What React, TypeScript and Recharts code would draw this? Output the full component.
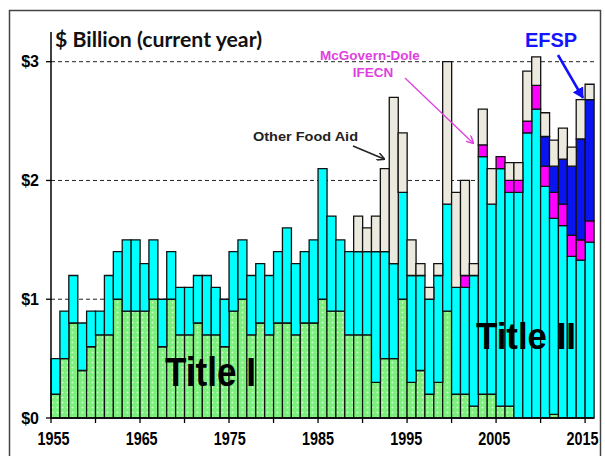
import { BarChart, Bar, XAxis, YAxis, CartesianGrid } from "recharts";

const years = Array.from({ length: 61 }, (_, i) => 1955 + i);

// $ billion
const titleI = [
  0.2, 0.5, 0.8, 0.4, 0.6, 0.7, 0.7, 1.0, 0.9, 0.9,
  0.9, 1.0, 0.6, 1.0, 0.7, 0.7, 0.8, 0.7, 0.7, 0.6,
  0.9, 1.0, 0.7, 0.8, 0.7, 0.8, 0.8, 0.7, 0.8, 0.8,
  1.0, 0.9, 0.9, 0.7, 0.7, 0.7, 0.3, 0.5, 0.5, 1.0,
  0.3, 0.4, 0.2, 0.3, 0.9, 0.2, 0.2, 0.1, 0.2, 0.2,
  0.1, 0.1, 0, 0, 0, 0, 0.03, 0, 0, 0,
  0,
];

// top of the cyan part (Title I + Title II)
const titleTotal = [
  0.5, 0.9, 1.2, 0.8, 0.9, 0.9, 1.2, 1.4, 1.5, 1.5,
  1.3, 1.5, 1.0, 1.4, 1.1, 1.1, 1.2, 1.2, 1.1, 1.0,
  1.4, 1.5, 1.2, 1.3, 1.2, 1.4, 1.6, 1.3, 1.4, 1.5,
  2.1, 1.7, 1.5, 1.4, 1.4, 1.4, 1.4, 1.4, 1.3, 1.9,
  1.2, 1.2, 1.0, 1.2, 1.8, 1.1, 1.1, 1.2, 2.2, 1.8,
  2.1, 1.9, 1.9, 2.4, 2.6, 1.95, 1.68, 1.62, 1.36, 1.33,
  1.48,
];

const mcgovern: Record<number, number> = {
  2001: 0.1, 2003: 0.1, 2005: 0.1, 2006: 0.1, 2007: 0.1, 2008: 0.1,
  2009: 0.2, 2010: 0.17, 2011: 0.22, 2012: 0.18, 2013: 0.18, 2014: 0.17, 2015: 0.18,
};

const efsp: Record<number, number> = {
  2010: 0.25, 2011: 0.22, 2012: 0.38, 2013: 0.58, 2014: 0.85, 2015: 1.02,
};

const otherAid: Record<number, number> = {
  1989: 0.3, 1990: 0.2, 1991: 0.3, 1992: 0.7, 1993: 1.4, 1994: 0.5,
  1995: 0.3, 1996: 0.1, 1997: 0.1, 1998: 0.1, 1999: 1.2, 2000: 0.8,
  2001: 0.8, 2002: 0.1, 2003: 0.3, 2004: 0.3, 2006: 0.15, 2007: 0.15,
  2008: 0.42, 2009: 0.24, 2010: 0.2, 2011: 0.22, 2012: 0.26, 2013: 0.16,
  2014: 0.33, 2015: 0.13,
};

const yTicks = [0, 1, 2, 3];
const gridValues = [1, 2, 3];

const data = years.map((year, i) => ({
  year,
  titleI: titleI[i],
  titleII: +(titleTotal[i] - titleI[i]).toFixed(2),
  mcgovern: mcgovern[year] ?? 0,
  efsp: efsp[year] ?? 0,
  other: otherAid[year] ?? 0,
}));

function YearTick(props: any) {
  const { x, y, payload } = props;
  const yr = Number(payload.value);
  const half = payload.offset || 4.45;
  // labels drift slightly left of the bar centres, as in the original
  const shift = -2 - ((yr - 1955) / 60) * 5;
  return (
    <g>
      {(yr - 1955) % 5 === 0 && (
        <line x1={x - half} x2={x - half} y1={y} y2={y + 5} stroke="#000" strokeWidth={1.3} />
      )}
      {(yr - 1955) % 10 === 0 && (
        <text
          x={x + shift}
          y={y + 27}
          textAnchor="middle"
          fontFamily="Liberation Sans, Arial, sans-serif"
          fontWeight="bold"
          fontSize={18}
          textLength={32}
          lengthAdjust="spacingAndGlyphs"
          fill="#000"
        >
          {yr}
        </text>
      )}
    </g>
  );
}

const stroke = "#111";

export default function App() {
  return (
    <div style={{ position: "fixed", left: 0, top: 0, width: 605, height: 456, background: "#fff" }}>
      <BarChart
        width={605}
        height={456}
        data={data}
        margin={{ top: 32, right: 11, bottom: 0, left: 0 }}
        barCategoryGap={0}
        barGap={0}
      >
        <defs>
          <pattern id="greenHatch" width="5" height="5" patternUnits="userSpaceOnUse">
            <rect width="5" height="5" fill="#7cf07c" />
            <path d="M2.5 1.5 V3.5 M1.5 2.5 H3.5" stroke="#ffffff" strokeWidth="0.8" opacity="0.7" />
          </pattern>
        </defs>
        <CartesianGrid
          vertical={false}
          horizontalValues={gridValues}
          strokeDasharray="4 3"
          stroke="#222"
        />
        <XAxis
          dataKey="year"
          height={38}
          interval={0}
          tickLine={false}
          tickSize={0}
          tickMargin={0}
          tick={<YearTick />}
          axisLine={{ stroke: "#000", strokeWidth: 1.5 }}
        />
        <YAxis
          width={51}
          type="number"
          domain={[0, 3.25]}
          ticks={yTicks}
          interval={0}
          tickSize={5}
          tickMargin={7}
          tickLine={{ stroke: "#000", strokeWidth: 1.3 }}
          axisLine={{ stroke: "#000", strokeWidth: 1.5 }}
          tickFormatter={(v) => `$${v}`}
          tick={{ fill: "#000", fontSize: 16, fontWeight: "bold", fontFamily: "Liberation Sans, Arial, sans-serif" }}
        />
        <Bar dataKey="titleI" stackId="a" fill="url(#greenHatch)" stroke={stroke} strokeWidth={1.3} isAnimationActive={false} />
        <Bar dataKey="titleII" stackId="a" fill="#00ffff" stroke={stroke} strokeWidth={1.3} isAnimationActive={false} />
        <Bar dataKey="mcgovern" stackId="a" fill="#ff00ff" stroke={stroke} strokeWidth={1.3} isAnimationActive={false} />
        <Bar dataKey="efsp" stackId="a" fill="#0a14f0" stroke={stroke} strokeWidth={1.3} isAnimationActive={false} />
        <Bar dataKey="other" stackId="a" fill="#ece9df" stroke={stroke} strokeWidth={1.3} isAnimationActive={false} />
      </BarChart>

      <svg
        width={605}
        height={456}
        style={{ position: "absolute", left: 0, top: 0, pointerEvents: "none" }}
        fontFamily="Liberation Sans, Arial, sans-serif"
      >
        <defs>
          <marker id="arrBlack" markerWidth="8" markerHeight="8" refX="7" refY="4" orient="auto" markerUnits="userSpaceOnUse">
            <path d="M0,0 L8,4 L0,8" fill="none" stroke="#222" strokeWidth="1.5" />
          </marker>
          <marker id="arrPink" markerWidth="8" markerHeight="8" refX="7" refY="4" orient="auto" markerUnits="userSpaceOnUse">
            <path d="M0,0 L8,4 L0,8" fill="none" stroke="#e040e0" strokeWidth="1.5" />
          </marker>
          <marker id="arrBlue" markerWidth="12" markerHeight="12" refX="10" refY="6" orient="auto" markerUnits="userSpaceOnUse">
            <path d="M0,0 L11,6 L0,12 Z" fill="#1010ff" />
          </marker>
        </defs>
        <rect x={9.5} y={10.5} width={591} height={470} fill="none" stroke="#444" strokeWidth={1.5} />
        <text
          x={55}
          y={47}
          fontFamily="Lato, sans-serif"
          fontWeight="bold"
          fontSize={20}
          textLength={207}
          lengthAdjust="spacingAndGlyphs"
          fill="#111"
        >
          $ Billion (current year)
        </text>

        <text x={253} y={141} fontWeight="bold" fontSize={13} textLength={105} lengthAdjust="spacingAndGlyphs" fill="#222">
          Other Food  Aid
        </text>
        <line x1={353} y1={146} x2={384} y2={159} stroke="#222" strokeWidth={1.5} markerEnd="url(#arrBlack)" />

        <text x={370} y={60} textAnchor="middle" fontWeight="bold" fontSize={13.5} fill="#e040e0">
          McGovern-Dole
        </text>
        <text x={373} y={77} textAnchor="middle" fontWeight="bold" fontSize={13.5} fill="#e040e0">
          IFECN
        </text>
        <line x1={405} y1={78} x2={473} y2={143} stroke="#e040e0" strokeWidth={1.3} markerEnd="url(#arrPink)" />

        <text x={551} y={47} textAnchor="middle" fontWeight="bold" fontSize={20} fill="#1414ff">
          EFSP
        </text>
        <line x1={558} y1={55} x2={583} y2={98} stroke="#1010ff" strokeWidth={2.5} markerEnd="url(#arrBlue)" />

        <text x={165} y={386} fontWeight="bold" fontSize={40} textLength={91} lengthAdjust="spacingAndGlyphs" fill="#000">
          Title I
        </text>
        <text x={476} y={349} fontWeight="bold" fontSize={37} textLength={100} lengthAdjust="spacingAndGlyphs" fill="#000">
          Title II
        </text>
      </svg>
    </div>
  );
}
